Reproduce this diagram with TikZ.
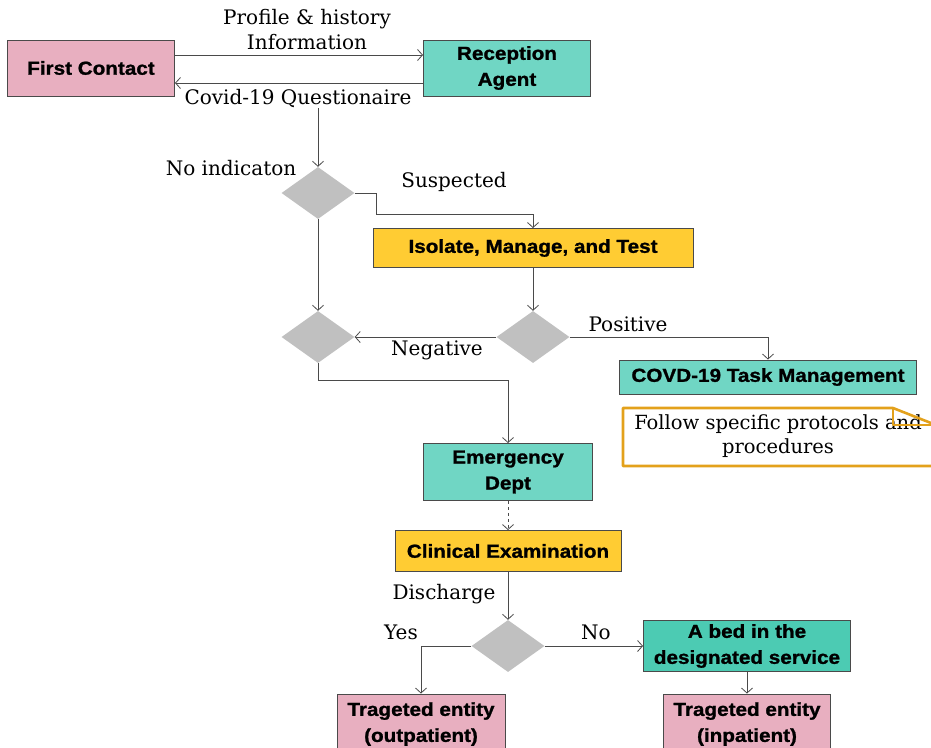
\documentclass[tikz,border=0pt]{standalone}
\usepackage{fontspec}
\setsansfont[FakeStretch=1.1, BoldFeatures={FakeBold=1.2}]{Liberation Sans}
\newfontfamily\labelfont{DejaVu Serif}
\usetikzlibrary{arrows.meta, shapes.geometric, positioning, calc}

\definecolor{pinkbox}{HTML}{E8AFC0}
\definecolor{tealbox}{HTML}{70D6C4}
\definecolor{bedbox}{HTML}{4CCBB3}
\definecolor{yellowbox}{HTML}{FFCC33}
\definecolor{diagray}{HTML}{C0C0C0}
\definecolor{linegray}{HTML}{4A4A4A}
\definecolor{noteorange}{HTML}{E3A11B}

\tikzset{
    box/.style={draw=linegray, line width=0.9pt, rectangle, align=center, inner sep=0pt,
        font=\sffamily\bfseries\fontsize{18.8}{26}\selectfont},
    dmd/.style={diamond, fill=diagray, draw=none, inner sep=0pt, aspect=1.4,
        minimum width=73pt, minimum height=52pt},
    lbl/.style={align=center, inner sep=0pt, font=\labelfont\fontsize{20}{25}\selectfont},
    arr/.style={draw=linegray, line width=0.8pt, -{Straight Barb[length=5pt,width=11pt]}}
}

\begin{document}
\begin{tikzpicture}[x=1pt, y=-1pt]
    \useasboundingbox (0,0) rectangle (931,747);
    \clip (0,0) rectangle (931,747);

    % top row
    \node [box, fill=pinkbox, minimum width=167pt, minimum height=56pt] (fc) at (91,68) {First Contact};
    \node [box, fill=tealbox, minimum width=167pt, minimum height=56pt] (ra) at (507,68) {Reception\\Agent};
    \node [lbl] (prof) at (307,30) {Profile \& history\\Information};
    \node [lbl] (qa) at (298,99) {Covid-19 Questionaire};

    \draw [arr] ([yshift=13pt]fc.east) -- ([yshift=13pt]ra.west);
    \draw [arr] ([yshift=-15pt]ra.west) -- ([yshift=-15pt]fc.east);

    % screening
    \node [dmd] (d1) at (318,193) {};
    \node [lbl] (noind) at (231,168) {No indicaton};
    \node [lbl] (susp) at (454,182) {Suspected};
    \node [box, fill=yellowbox, minimum width=320pt, minimum height=39pt] (iso) at (533,248) {Isolate, Manage, and Test};

    \draw [arr] (qa.south -| d1.north) -- (d1.north);
    \draw [arr] (d1.east) -- ++(22,0) |- ([yshift=14pt]iso.north) -- (iso.north);

    % test result
    \node [dmd] (d2) at (318,337) {};
    \node [dmd] (d3) at (533,337) {};
    \node [lbl] (neg) at (437,350) {Negative};
    \node [lbl] (pos) at (628,324) {Positive};
    \node [box, fill=tealbox, minimum width=297pt, minimum height=34pt] (task) at (768,377) {COVD-19 Task Management};
    \node [lbl, font=\labelfont\fontsize{19.5}{24}\selectfont] (note) at (778,436) {Follow specific protocols and\\procedures};
    \draw [noteorange, line width=2.6pt, line join=round]
        (623,408) -- (893,408) -- (936,425) -- (936,466) -- (623,466) -- cycle;
    \draw [noteorange, line width=2.6pt, line join=round] (893,408) -- (893,425) -- (936,425);

    \draw [arr] (d1.south) -- (d2.north);
    \draw [arr] (iso.south) -- (d3.north);
    \draw [arr] (d3.west) -- (d2.east);
    \draw [arr] (d3.east) -| (task.north);

    % emergency
    \node [box, fill=tealbox, minimum width=169pt, minimum height=57pt] (ed) at (508,472) {Emergency\\Dept};
    \node [box, fill=yellowbox, minimum width=226pt, minimum height=41pt] (ce) at (508,551) {Clinical Examination};

    \draw [arr] (d2.south) -- ++(0,17) -| (ed.north);
    \draw [arr, dashed] (ed.south) -- (ce.north);

    % discharge
    \node [dmd] (d4) at (508,646) {};
    \node [lbl] (dis) at (444,594) {Discharge};
    \node [lbl] (yes) at (401,632) {Yes};
    \node [lbl] (no) at (596,632) {No};
    \node [box, fill=bedbox, minimum width=207pt, minimum height=51pt] (bed) at (747,646) {A bed in the\\designated service};
    \node [box, fill=pinkbox, minimum width=168pt, minimum height=60pt] (outp) at (421,724) {Trageted entity\\(outpatient)};
    \node [box, fill=pinkbox, minimum width=167pt, minimum height=60pt] (inp) at (747,724) {Trageted entity\\(inpatient)};

    \draw [arr] (ce.south) -- (d4.north);
    \draw [arr] (d4.west) -| (outp.north);
    \draw [arr] (d4.east) -- (bed.west);
    \draw [arr] (bed.south) -- (inp.north);
\end{tikzpicture}
\end{document}
